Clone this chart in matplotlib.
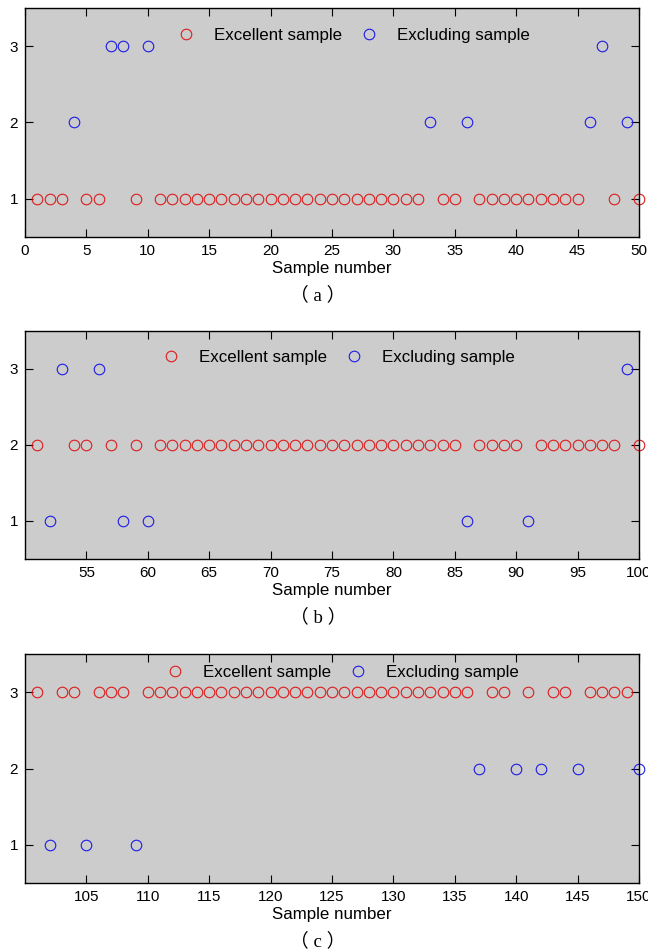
import matplotlib
matplotlib.use('Agg')
import matplotlib.pyplot as plt

plt.rcParams['font.family'] = ['Liberation Sans', 'DejaVu Sans']

# panel (a): samples 1-50, excellent class = 1
good_a_x = [1, 2, 3, 5, 6, 9, 11, 12, 13, 14, 15, 16, 17, 18, 19, 20, 21, 22, 23, 24,
            25, 26, 27, 28, 29, 30, 31, 32, 34, 35, 37, 38, 39, 40, 41, 42, 43, 44, 45, 48, 50]
good_a_y = [1] * len(good_a_x)
bad_a_x = [4, 7, 8, 10, 33, 36, 46, 47, 49]
bad_a_y = [2, 3, 3, 3, 2, 2, 2, 3, 2]

# panel (b): samples 51-100, excellent class = 2
good_b_x = [51, 54, 55, 57, 59, 61, 62, 63, 64, 65, 66, 67, 68, 69, 70, 71, 72, 73, 74, 75,
            76, 77, 78, 79, 80, 81, 82, 83, 84, 85, 87, 88, 89, 90, 92, 93, 94, 95, 96, 97, 98, 100]
good_b_y = [2] * len(good_b_x)
bad_b_x = [52, 53, 56, 58, 60, 86, 91, 99]
bad_b_y = [1, 3, 3, 1, 1, 1, 1, 3]

# panel (c): samples 101-150, excellent class = 3
good_c_x = [101, 103, 104, 106, 107, 108, 110, 111, 112, 113, 114, 115, 116, 117, 118, 119,
            120, 121, 122, 123, 124, 125, 126, 127, 128, 129, 130, 131, 132, 133, 134, 135, 136,
            138, 139, 141, 143, 144, 146, 147, 148, 149]
good_c_y = [3] * len(good_c_x)
bad_c_x = [102, 105, 109, 137, 140, 142, 145, 150]
bad_c_y = [1, 1, 1, 2, 2, 2, 2, 2]

panels = [
    (good_a_x, good_a_y, bad_a_x, bad_a_y, (0, 50), range(0, 51, 5), '（ a ）'),
    (good_b_x, good_b_y, bad_b_x, bad_b_y, (50, 100), range(55, 101, 5), '（ b ）'),
    (good_c_x, good_c_y, bad_c_x, bad_c_y, (100, 150), range(105, 151, 5), '（ c ）'),
]

W, H = 648, 952
boxes = [(25, 8, 639, 237), (25, 331, 639, 559), (25, 654, 639, 883)]
# legend centre in axes fraction, per panel
leg_pos = [(0.529, 0.882), (0.504, 0.882), (0.511, 0.921)]

fig = plt.figure(figsize=(W / 100, H / 100), dpi=100)

for (gx, gy, bx, by, xl, xt, cap), (l, t, r, b), lp in zip(panels, boxes, leg_pos):
    ax = fig.add_axes([l / W, 1 - b / H, (r - l) / W, (b - t) / H])
    ax.set_facecolor('#cccccc')
    ax.plot(gx, gy, 'o', mfc='none', mec='#dd1c1c', ms=7.6, mew=0.8,
            label='Excellent sample', clip_on=False)
    ax.plot(bx, by, 'o', mfc='none', mec='#1c1ce6', ms=7.6, mew=0.8,
            label='Excluding sample', clip_on=False)
    ax.set_xlim(*xl)
    ax.set_ylim(0.5, 3.5)
    ax.set_xticks(list(xt))
    ax.set_yticks([1, 2, 3])
    ax.tick_params(direction='in', top=True, right=True, length=6, width=0.8,
                   labelsize=11, pad=5)
    for s in ax.spines.values():
        s.set_linewidth(1.0)
    ax.set_xlabel('Sample number', fontsize=12.2, labelpad=2)
    ax.legend(loc='center', bbox_to_anchor=lp, ncol=2, frameon=False,
              fontsize=12.2, handletextpad=0.65, columnspacing=0.6,
              borderaxespad=0, borderpad=0)
    ax.text(0.477, -0.255, cap, transform=ax.transAxes, ha='center', va='center',
            fontsize=13.5, family=['Liberation Serif', 'Noto Sans CJK SC'])

fig.savefig('out.png', dpi=100, facecolor='white')
